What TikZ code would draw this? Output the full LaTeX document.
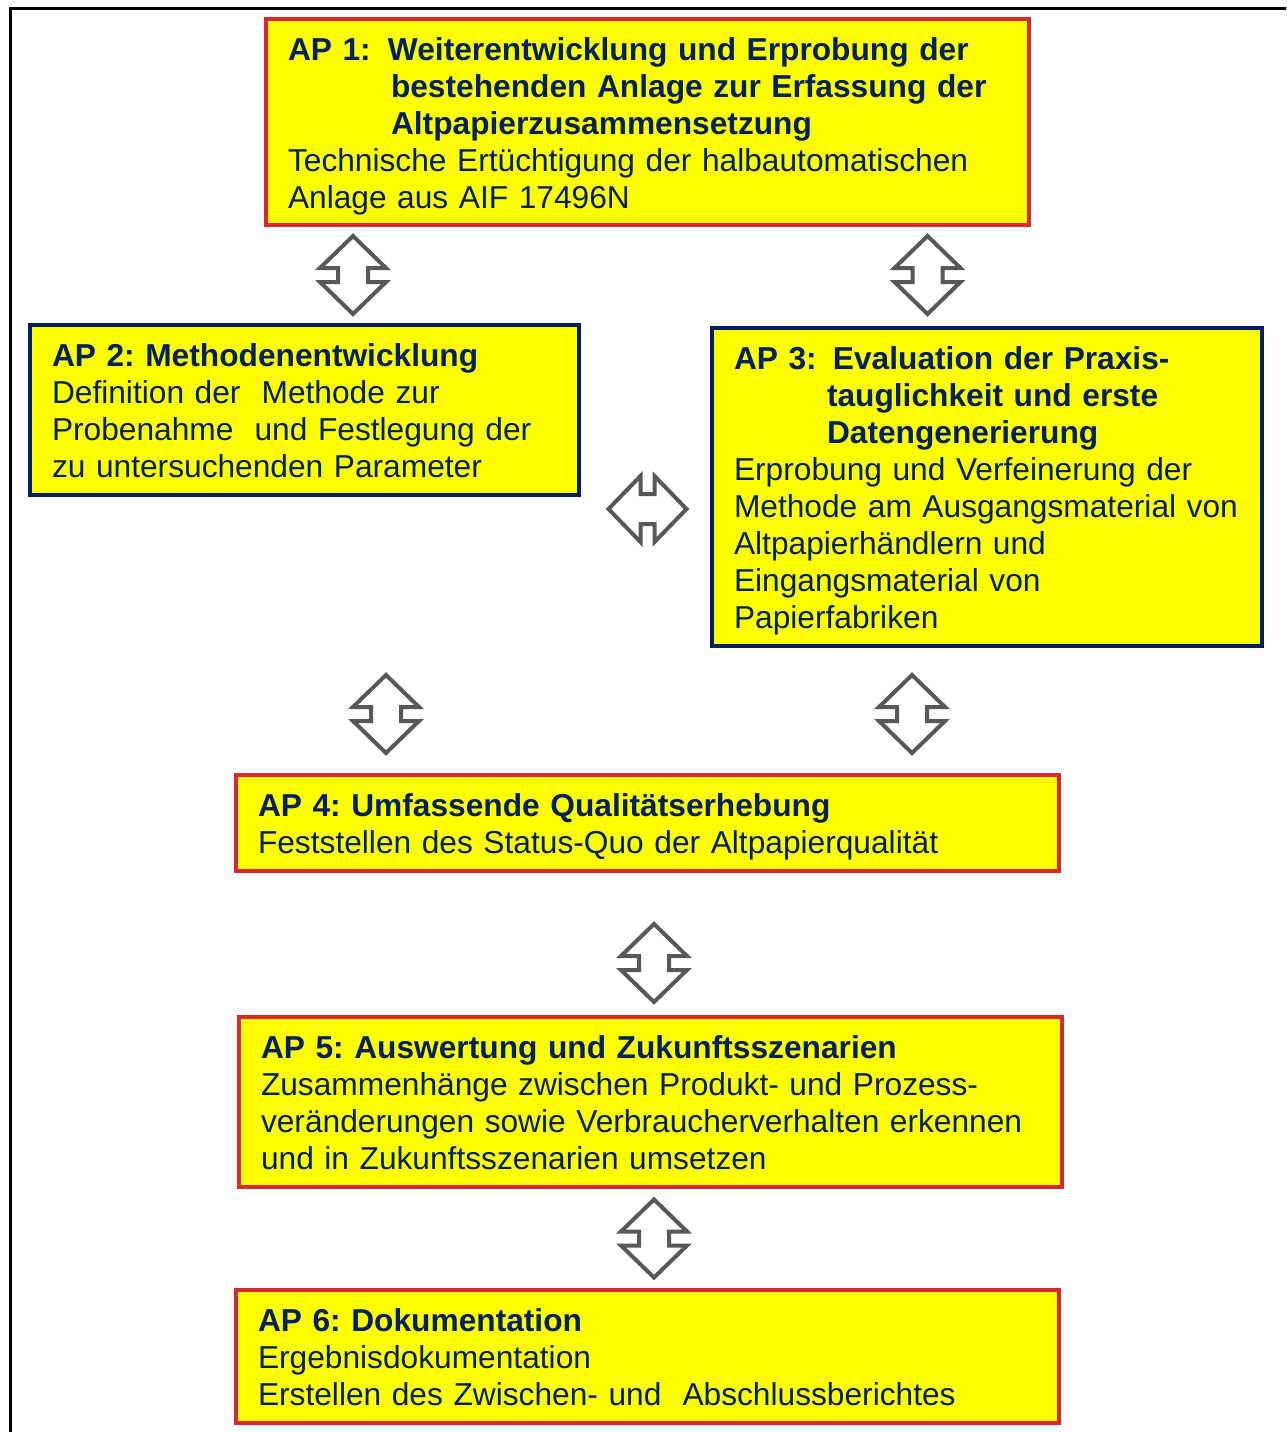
\documentclass[tikz,border=0pt]{standalone}
\usepackage{fontspec}
\setmainfont{Liberation Sans}
\usepackage{tikz}
\usetikzlibrary{calc}
\frenchspacing
\definecolor{apnavy}{RGB}{0,32,96}
\definecolor{apred}{RGB}{214,42,48}
\definecolor{apyellow}{RGB}{255,255,0}
\definecolor{apgrey}{RGB}{88,88,88}
\tikzset{%
  apbox/.style={rectangle, draw=apred, fill=apyellow, line width=4.5pt,
    inner xsep=22pt, inner ysep=0pt, align=left, text=apnavy, text height=41pt,
    font=\fontsize{31.7}{37}\selectfont},
  navybox/.style={apbox, draw=apnavy},
  updown/.pic={
    \draw[apgrey, fill=white, line width=4pt] (0,-39) -- (33,-7) -- (15,-7) -- (15,7) -- (33,7)
      -- (0,39) -- (-33,7) -- (-15,7) -- (-15,-7) -- (-33,-7) -- cycle;
  }}

\begin{document}
\begin{tikzpicture}[x=1pt, y=-1pt]
\useasboundingbox (0,0) rectangle (1286,1432);
\clip (0,0) rectangle (1286,1432);
\draw[line width=3pt] (10,1450) -- (10,8) -- (1300,8);
\node[apbox, text width=719pt, minimum height=206pt, text depth=165pt] (ap1) at (647.5,122) {%
  \textbf{\makebox[100pt][l]{AP 1:}Weiterentwicklung und Erprobung der}\\
  \textbf{\hspace*{103pt}bestehenden Anlage zur Erfassung der}\\
  \textbf{\hspace*{103pt}Altpapierzusammensetzung}\\
  Technische Ertüchtigung der halbautomatischen\\
  Anlage aus AIF 17496N};
\node[navybox, text width=505pt, minimum height=170pt, text depth=129pt] (ap2) at (304.5,410) {%
  \textbf{AP 2: Methodenentwicklung}\\
  Definition der\ \ Methode zur\\
  Probenahme\ \ und Festlegung der\\
  zu untersuchenden Parameter};
\node[navybox, text width=506pt, minimum height=318pt, text depth=277pt] (ap3) at (987,487) {%
  \textbf{\makebox[99pt][l]{AP 3:}Evaluation der Praxis-}\\
  \textbf{\hspace*{93pt}tauglichkeit und erste}\\
  \textbf{\hspace*{93pt}Datengenerierung}\\
  Erprobung und Verfeinerung der\\
  Methode am Ausgangsmaterial von\\
  Altpapierhändlern und\\
  Eingangsmaterial von\\
  Papierfabriken};
\node[apbox, text width=779pt, minimum height=96pt, text depth=55pt] (ap4) at (647.5,823) {%
  \textbf{AP 4: Umfassende Qualitätserhebung}\\
  Feststellen des Status-Quo der Altpapierqualität};
\node[apbox, text width=779pt, minimum height=170pt, text depth=129pt] (ap5) at (650.5,1102) {%
  \textbf{AP 5: Auswertung und Zukunftsszenarien}\\
  Zusammenhänge zwischen Produkt- und Prozess-\\
  veränderungen sowie Verbraucherverhalten erkennen\\
  und in Zukunftsszenarien umsetzen};
\node[apbox, text width=779pt, minimum height=133pt, text depth=92pt] (ap6) at (647.5,1356.5) {%
  \textbf{AP 6: Dokumentation}\\
  Ergebnisdokumentation\\
  Erstellen des Zwischen- und\ \ Abschlussberichtes};
% block arrows between the work packages
\pic at (353,275) {updown};
\pic at (927.5,275) {updown};
\pic[rotate=90] at (647.5,509) {updown};
\pic at (386,714) {updown};
\pic at (912,714) {updown};
\pic at (654,963) {updown};
\pic at (654,1238.5) {updown};
\end{tikzpicture}
\end{document}
